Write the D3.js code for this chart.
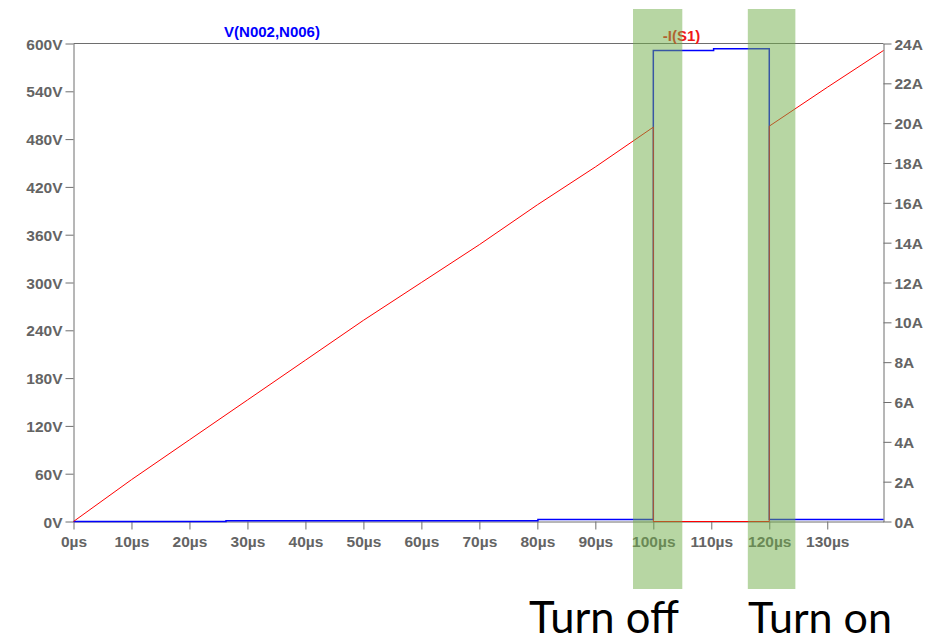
<!DOCTYPE html>
<html>
<head>
<meta charset="utf-8">
<script src="https://cdn.jsdelivr.net/npm/d3@7"></script>
<style>
  html, body { margin: 0; padding: 0; background: #ffffff; }
  svg { display: block; }
  .tick text { font-family: "Liberation Sans", Arial, sans-serif; font-weight: bold; font-size: 15.5px; fill: #646464; }
</style>
</head>
<body>
<svg id="chart" width="946" height="643"></svg>
<script>
// Switch voltage V(N002,N006), step trace (time in µs, volts)
const voltageTime  = [0, 26.3, 80.1, 100, 110.4, 120, 139.7];
const voltageVolts = [0, 1.0, 2.4, 591.2, 593.3, 2.6, 2.6];

// Switch current -I(S1) (time in µs, amps)
const currentTime = [0, 10, 20, 30, 40, 50, 60, 70, 80, 90, 100, 100, 120, 120, 130, 139.7];
const currentAmps = [0, 2.1, 4.1, 6.1, 8.1, 10.1, 12.0, 13.9, 15.9, 17.8, 19.8, 0, 0, 19.85, 21.8, 23.65];

// Axis ticks
const timeTicks    = [0, 10, 20, 30, 40, 50, 60, 70, 80, 90, 100, 110, 120, 130];
const voltageTicks = [0, 60, 120, 180, 240, 300, 360, 420, 480, 540, 600];
const currentTicks = [0, 2, 4, 6, 8, 10, 12, 14, 16, 18, 20, 22, 24];

// Switching windows (µs) and their captions
const windowStart = [96.5, 116.3];
const windowEnd   = [105.0, 124.5];
const windowLabel = ["Turn off", "Turn on"];

const svg = d3.select("#chart");
const plotLeft = 73.5, plotRight = 883.5, plotTop = 43.5, plotBottom = 521.5;

const x  = d3.scaleLinear().domain([0, 139.7]).range([plotLeft, plotRight]);
const yV = d3.scaleLinear().domain([0, 600]).range([plotBottom, plotTop]);
const yI = d3.scaleLinear().domain([0, 24]).range([plotBottom, plotTop]);

const axisColor = "#6e6e6e";

// frame top edge
svg.append("line")
  .attr("x1", plotLeft).attr("x2", plotRight).attr("y1", plotTop).attr("y2", plotTop)
  .attr("stroke", axisColor).attr("stroke-width", 1);

const gL = svg.append("g").attr("transform", `translate(${plotLeft},0)`)
  .call(d3.axisLeft(yV).tickValues(voltageTicks).tickSize(8).tickSizeOuter(0).tickPadding(3)
    .tickFormat(d => d + "V"));
const gR = svg.append("g").attr("transform", `translate(${plotRight},0)`)
  .call(d3.axisRight(yI).tickValues(currentTicks).tickSize(8).tickSizeOuter(0).tickPadding(3)
    .tickFormat(d => d + "A"));
const gB = svg.append("g").attr("transform", `translate(0,${plotBottom})`)
  .call(d3.axisBottom(x).tickValues(timeTicks).tickSize(8).tickSizeOuter(0).tickPadding(6)
    .tickFormat(d => d + "µs"));

[gL, gR, gB].forEach(g => {
  g.attr("font-family", null).attr("font-size", null);
  g.select(".domain").attr("stroke", axisColor);
  g.selectAll(".tick line").attr("stroke", axisColor);
});
gL.selectAll(".tick text").attr("dy", "0.36em");
gR.selectAll(".tick text").attr("dy", "0.36em");

// trace titles
svg.append("text")
  .attr("x", 272).attr("y", 36.5).attr("text-anchor", "middle")
  .attr("font-family", "Liberation Sans, Arial, sans-serif").attr("font-weight", "bold")
  .attr("font-size", 15).attr("fill", "#0000ff")
  .text("V(N002,N006)");
svg.append("text")
  .attr("x", 681.5).attr("y", 40.5).attr("text-anchor", "middle")
  .attr("font-family", "Liberation Sans, Arial, sans-serif").attr("font-weight", "bold")
  .attr("font-size", 15).attr("fill", "#f01818")
  .text("-I(S1)");

// voltage trace
const vData = voltageTime.map((t, i) => [t, voltageVolts[i]]);
svg.append("path")
  .datum(vData)
  .attr("fill", "none").attr("stroke", "#0000ff").attr("stroke-width", 1.5)
  .attr("d", d3.line().x(d => x(d[0])).y(d => yV(d[1])).curve(d3.curveStepAfter));

// current trace
const iData = currentTime.map((t, i) => [t, currentAmps[i]]);
svg.append("path")
  .datum(iData)
  .attr("fill", "none").attr("stroke", "#ff0000").attr("stroke-width", 1)
  .attr("d", d3.line().x(d => x(d[0])).y(d => yI(d[1])));

// switching windows, translucent green bands
windowStart.forEach((s, i) => {
  svg.append("rect")
    .attr("x", x(s)).attr("y", 9)
    .attr("width", x(windowEnd[i]) - x(s)).attr("height", 580)
    .attr("fill", "#70ad47").attr("fill-opacity", 0.5);
});

// captions under the bands, kept inside the bottom edge
const captionCenter = [604, 820];
const captionWidth = [150, 144];
windowLabel.forEach((lbl, i) => {
  const t = svg.append("text")
    .attr("x", captionCenter[i]).attr("y", 640).attr("text-anchor", "middle")
    .attr("font-family", "Lato, 'Open Sans', sans-serif")
    .attr("font-size", 46).attr("fill", "#000000")
    .text(lbl);
  const w = t.node().getComputedTextLength();
  t.attr("font-size", 46 * captionWidth[i] / w);
  const bb = t.node().getBBox();
  const overflow = bb.y + bb.height - 642;
  if (overflow > 0) t.attr("y", 640 - overflow);
});
</script>
</body>
</html>
